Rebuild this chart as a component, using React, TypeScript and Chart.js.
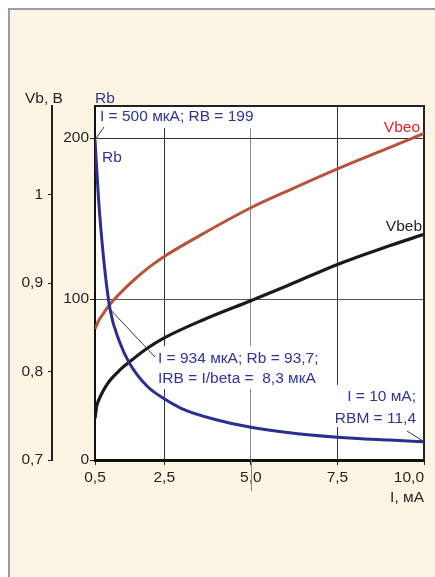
import React, { useEffect, useRef } from 'react';
import { Chart, registerables } from 'chart.js';

Chart.register(...registerables);

// ---- data ----
const currentRb = [0.5, 0.6, 0.75, 0.934, 1.2, 1.5, 2.0, 2.5, 3.0, 4.0, 5.0, 6.0, 7.5, 9.0, 10.0];
const rbValues = [199, 163, 125, 93.7, 74, 60, 46, 38, 32, 25, 20.4, 17.3, 14.2, 12.4, 11.4];

const currentVbeo = [0.5, 0.6, 0.75, 1.0, 1.5, 2.0, 2.5, 3.5, 5.0, 6.0, 7.5, 9.0, 10.0];
const vbeoValues = [0.848, 0.857, 0.866, 0.879, 0.899, 0.916, 0.93, 0.953, 0.985, 1.003, 1.029, 1.053, 1.069];

const currentVbeb = [0.5, 0.55, 0.6, 0.75, 0.934, 1.2, 1.5, 2.0, 2.5, 3.6, 5.0, 6.0, 7.5, 9.0, 10.0];
const vbebValues = [0.747, 0.761, 0.767, 0.779, 0.79, 0.801, 0.811, 0.826, 0.838, 0.858, 0.88, 0.896, 0.921, 0.942, 0.955];

const xTicks = [0.5, 2.5, 5.0, 7.5, 10.0];
const rbTicks = [0, 100, 200];
const vbTicks = [0.7, 0.8, 0.9, 1.0];

const FONT = "'Liberation Sans', Arial, sans-serif";
const FS = 15.5;
const BLUE = '#2a2e91';
const BLUE_TEXT = '#30349a';
const BROWN = '#b8533b';
const RED_TEXT = '#e3232b';
const DARK = '#231f20';

const comma = (v: number, d: number) => v.toFixed(d).replace('.', ',');

const annotations = {
  id: 'annotations',
  beforeDraw(chart: any) {
    const { ctx, chartArea: a } = chart;
    ctx.save();
    ctx.fillStyle = '#ffffff';
    ctx.fillRect(a.left, a.top, a.right - a.left, a.bottom - a.top);
    ctx.restore();
  },
  beforeDatasetsDraw(chart: any) {
    const { ctx, chartArea: a, scales } = chart;
    ctx.save();
    // frame top/right
    ctx.strokeStyle = '#222';
    ctx.lineWidth = 2;
    ctx.beginPath();
    ctx.moveTo(a.left, a.top);
    ctx.lineTo(a.right, a.top);
    ctx.lineTo(a.right, a.bottom);
    ctx.stroke();
    // 5.0 tick line passing through its label
    const x5 = Math.round(scales.x.getPixelForValue(5)) + 0.5;
    ctx.strokeStyle = '#8a8a8a';
    ctx.lineWidth = 1;
    ctx.beginPath();
    ctx.moveTo(x5, a.bottom);
    ctx.lineTo(x5, a.bottom + 31);
    ctx.stroke();

    // white boxes behind annotations
    ctx.fillStyle = '#ffffff';
    ctx.fillRect(97, 107, 161, 21);
    ctx.fillRect(155, 346, 171, 43);
    ctx.fillRect(331, 385, 88, 42);

    ctx.font = `${FS}px ${FONT}`;
    ctx.textBaseline = 'alphabetic';
    ctx.textAlign = 'left';
    ctx.fillStyle = DARK;
    ctx.fillText('Vb, B', 25, 103);
    ctx.fillStyle = BLUE_TEXT;
    ctx.fillText('Rb', 95, 103);
    ctx.fillText('I = 500 мкА; RB = 199', 100, 121);
    ctx.fillText('Rb', 102, 162);
    ctx.fillText('I = 934 мкА; Rb = 93,7;', 158, 363);
    ctx.fillText('IRB = I/beta =  8,3 мкА', 158, 383);
    ctx.textAlign = 'right';
    ctx.fillText('I = 10 мА;', 416, 401);
    ctx.fillText('RBM = 11,4', 416, 423);
    ctx.fillStyle = RED_TEXT;
    ctx.fillText('Vbeo', 420, 132);
    ctx.fillStyle = DARK;
    ctx.fillText('Vbeb', 422, 231);
    ctx.restore();
  },
  afterDatasetsDraw(chart: any) {
    const { ctx, scales } = chart;
    const px = (x: number) => scales.x.getPixelForValue(x);
    const py = (y: number) => scales.y.getPixelForValue(y);
    ctx.save();
    ctx.strokeStyle = '#333';
    ctx.lineWidth = 1;
    const leader = (x0: number, y0: number, x1: number, y1: number) => {
      ctx.beginPath();
      ctx.moveTo(x0, y0);
      ctx.lineTo(x1, y1);
      ctx.stroke();
    };
    leader(px(currentRb[0]), py(rbValues[0]), 104, 127);
    leader(px(currentRb[3]), py(rbValues[3]), 155, 357);
    leader(px(currentRb[currentRb.length - 1]), py(rbValues[rbValues.length - 1]), 407, 431);
    ctx.restore();
  },
};

export default function App() {
  const ref = useRef<HTMLCanvasElement | null>(null);

  useEffect(() => {
    if (!ref.current) return;
    const font = { family: FONT, size: FS };
    const zeroPad = (s: any) => {
      s.paddingLeft = 0;
      s.paddingRight = 0;
      s.paddingTop = 0;
      s.paddingBottom = 0;
    };
    const chart = new Chart(ref.current, {
      type: 'line',
      data: {
        datasets: [
          {
            label: 'Rb',
            data: currentRb.map((x, i) => ({ x, y: rbValues[i] })),
            yAxisID: 'y',
            borderColor: BLUE,
            borderWidth: 3,
            pointRadius: 0,
            cubicInterpolationMode: 'monotone',
            fill: false,
          },
          {
            label: 'Vbeo',
            data: currentVbeo.map((x, i) => ({ x, y: vbeoValues[i] })),
            yAxisID: 'yV',
            borderColor: BROWN,
            borderWidth: 3,
            pointRadius: 0,
            cubicInterpolationMode: 'monotone',
            fill: false,
          },
          {
            label: 'Vbeb',
            data: currentVbeb.map((x, i) => ({ x, y: vbebValues[i] })),
            yAxisID: 'yV',
            borderColor: '#1a1a1a',
            borderWidth: 3.2,
            pointRadius: 0,
            cubicInterpolationMode: 'monotone',
            fill: false,
          },
        ],
      },
      options: {
        responsive: false,
        animation: false,
        devicePixelRatio: 1,
        layout: { padding: { top: 106, right: 11, bottom: 67, left: 0 } },
        plugins: { legend: { display: false }, tooltip: { enabled: false } },
        scales: {
          x: {
            type: 'linear',
            min: 0.5,
            max: 10,
            afterBuildTicks: (s: any) => {
              s.ticks = xTicks.map((v) => ({ value: v }));
            },
            afterFit: (s: any) => {
              s.height = 50;
              zeroPad(s);
            },
            ticks: {
              autoSkip: false,
              maxRotation: 0,
              padding: 3,
              color: DARK,
              font,
              callback: (v: any) => (v === 10 ? comma(v, 1) + '       ' : comma(v, 1)),
            },
            grid: {
              color: (c: any) => {
                const v = c.tick && c.tick.value;
                if (v === 0.5 || v === 10) return 'rgba(0,0,0,0)';
                if (v === 5) return '#8a8a8a';
                return '#333';
              },
              tickColor: '#222',
              tickLength: 5,
              lineWidth: 1,
            },
            border: { display: true, color: '#111', width: 3 },
            title: {
              display: true,
              text: 'I, мА',
              align: 'end',
              color: DARK,
              font,
              padding: { top: 0, bottom: 3 },
            },
          },
          y: {
            type: 'linear',
            position: 'left',
            weight: 0,
            min: 0,
            max: 220,
            afterBuildTicks: (s: any) => {
              s.ticks = rbTicks.map((v) => ({ value: v }));
            },
            afterFit: (s: any) => {
              s.width = 43;
              zeroPad(s);
            },
            ticks: { padding: 1, color: DARK, font, callback: (v: any) => String(v) },
            grid: {
              color: (c: any) => {
                const v = c.tick && c.tick.value;
                if (v === 100) return '#555';
                if (v === 200) return '#333';
                return 'rgba(0,0,0,0)';
              },
              tickColor: '#222',
              tickLength: 5,
              lineWidth: 1,
            },
            border: { display: true, color: '#111', width: 2 },
          },
          yV: {
            type: 'linear',
            position: 'left',
            weight: 1,
            min: 0.7,
            max: 1.1,
            afterBuildTicks: (s: any) => {
              s.ticks = vbTicks.map((v) => ({ value: v }));
            },
            afterFit: (s: any) => {
              s.width = 52;
              zeroPad(s);
            },
            ticks: {
              padding: 5,
              color: DARK,
              font,
              callback: (v: any) => (Math.abs(v - 1) < 1e-9 ? '1' : comma(v, 1)),
            },
            grid: {
              drawOnChartArea: false,
              color: '#222',
              tickColor: '#222',
              tickLength: 4,
              lineWidth: 1,
            },
            border: { display: true, color: '#222', width: 2 },
          },
        },
      } as any,
      plugins: [annotations],
    });
    return () => chart.destroy();
  }, []);

  return (
    <div style={{ position: 'fixed', left: 0, top: 0, width: 435, height: 577, overflow: 'hidden' }}>
      <div
        style={{
          position: 'absolute',
          left: 8,
          top: 8,
          right: 0,
          bottom: 0,
          background: '#fdf5e3',
          borderLeft: '2px solid #9b9ba5',
          borderTop: '2px solid #9b9ba5',
        }}
      />
      <canvas ref={ref} width={435} height={577} style={{ position: 'absolute', left: 0, top: 0 }} />
    </div>
  );
}
